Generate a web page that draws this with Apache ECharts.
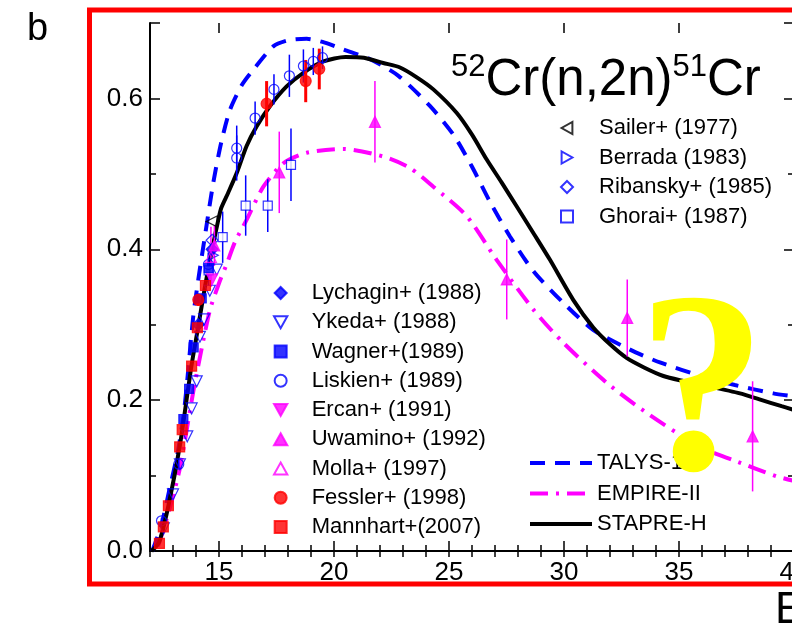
<!DOCTYPE html>
<html><head><meta charset="utf-8">
<script src="https://cdn.jsdelivr.net/npm/echarts@6/dist/echarts.min.js"></script>
<style>html,body{margin:0;padding:0;background:#fff}#c{width:792px;height:626px}</style>
</head><body><div id="c"></div>
<script>
const FONT = "'Liberation Sans', Arial, sans-serif";
const xMajorTicks = [15, 20, 25, 30, 35, 40];

// model curves
const stapreX = [12.07, 12.4, 12.8, 13.3, 13.8, 14.1, 14.4, 14.7, 14.97, 15.1, 15.4, 15.77, 16.2, 16.64, 17.22, 17.94, 18.67, 19.54, 20.5, 21.3, 22.14, 22.87, 23.6, 24.32, 25.33, 26.0, 26.64, 27.3, 27.94, 28.7, 29.39, 30.4, 31.28, 32.0, 32.72, 33.5, 34.32, 35.1, 36.2, 37.65, 38.5, 39.46, 40];
const stapreY = [0, 0.012, 0.06, 0.14, 0.245, 0.298, 0.352, 0.40, 0.439, 0.455, 0.475, 0.501, 0.537, 0.563, 0.59, 0.616, 0.634, 0.649, 0.655, 0.654, 0.647, 0.641, 0.628, 0.612, 0.581, 0.552, 0.519, 0.488, 0.457, 0.42, 0.386, 0.333, 0.296, 0.274, 0.256, 0.243, 0.232, 0.226, 0.219, 0.209, 0.201, 0.192, 0.187];
const talysX = [12.1, 12.5, 12.87, 13.2, 13.45, 13.6, 13.88, 14.1, 14.32, 14.75, 15.1, 15.48, 16.0, 16.49, 17.36, 18.0, 18.81, 19.6, 20.4, 21.57, 22.8, 24.17, 25.19, 25.99, 26.78, 27.65, 28.67, 29.97, 31.28, 32.87, 34.17, 36.06, 37.43, 39.1, 40];
const talysY = [0, 0.035, 0.085, 0.13, 0.178, 0.22, 0.311, 0.36, 0.404, 0.488, 0.542, 0.585, 0.618, 0.638, 0.669, 0.677, 0.679, 0.674, 0.665, 0.652, 0.630, 0.590, 0.552, 0.510, 0.463, 0.417, 0.371, 0.329, 0.293, 0.267, 0.25, 0.231, 0.220, 0.209, 0.205];
const empireX = [12.35, 12.8, 13.3, 13.88, 14.25, 14.61, 15.0, 15.33, 15.7, 16.2, 16.93, 17.8, 18.81, 20.4, 22.14, 23.3, 24.32, 25.77, 27.07, 28.67, 29.97, 31.86, 33.6, 35.91, 37.4, 39.25, 40];
const empireY = [0.006, 0.05, 0.11, 0.211, 0.269, 0.32, 0.355, 0.38, 0.41, 0.439, 0.483, 0.514, 0.528, 0.533, 0.523, 0.508, 0.483, 0.444, 0.386, 0.320, 0.276, 0.223, 0.183, 0.138, 0.12, 0.099, 0.093];

// experimental data
const sailerX = [14.68]; const sailerY = [0.437];
const berradaX = [14.75]; const berradaY = [0.392];
const ribanskyX = [14.7]; const ribanskyY = [0.412];
const ghoraiX = [14.55, 15.16, 16.16, 17.12, 18.13];
const ghoraiY = [0.372, 0.416, 0.458, 0.458, 0.512];
const ghoraiErr = [0.02, 0.034, 0.04, 0.035, 0.048];
const lychaginX = [14.1, 14.7]; const lychaginY = [0.30, 0.40];
const ykedaX = [12.6, 13.0, 13.3, 13.62, 13.81, 14.03, 14.17, 14.35, 14.6, 14.9];
const ykedaY = [0.03, 0.075, 0.115, 0.152, 0.189, 0.225, 0.284, 0.307, 0.345, 0.373];
const wagnerX = [13.45, 13.7, 13.9, 14.25, 14.55];
const wagnerY = [0.175, 0.215, 0.27, 0.335, 0.375];
const liskienX = [12.5, 13.25, 14.54, 15.77, 15.77, 16.57, 17.39, 18.06, 18.67, 19.1, 19.5];
const liskienY = [0.04, 0.115, 0.38, 0.534, 0.521, 0.574, 0.612, 0.630, 0.643, 0.649, 0.654];
const liskienErr = [0.004, 0.006, 0.015, 0.03, 0.03, 0.022, 0.02, 0.028, 0.022, 0.018, 0.015];
const ercanX = [14.7]; const ercanY = [0.36];
const uwaminoX = [14.8, 17.62, 21.78, 27.51, 32.75, 38.2];
const uwaminoY = [0.405, 0.502, 0.569, 0.36, 0.309, 0.152];
const uwaminoErr = [0.027, 0.054, 0.054, 0.053, 0.051, 0.073];
const mollaX = [14.65]; const mollaY = [0.39]; const mollaErr = [0.04];
const fesslerX = [14.1, 17.07, 18.77, 19.36];
const fesslerY = [0.333, 0.593, 0.623, 0.639];
const fesslerErr = [0.008, 0.03, 0.028, 0.027];
const mannhartX = [12.41, 12.58, 12.80, 13.29, 13.40, 13.81, 14.06, 14.41];
const mannhartY = [0.010, 0.032, 0.060, 0.138, 0.161, 0.245, 0.296, 0.352];

const zip = (xs, ys) => xs.map((x, i) => [x, ys[i]]);
const zip3 = (xs, ys, es) => xs.map((x, i) => [x, ys[i], es[i]]);

const BLUE = '#0000ff', MAG = '#ff00ff', RED = '#ff0000';
const NONE = 'rgba(255,255,255,0)';
const TRI_UP = 'path://M5,0L10,9L0,9Z';
const TRI_DOWN = 'path://M0,0L10,0L5,9Z';
const TRI_LEFT = 'path://M9,0L9,10L0,5Z';
const TRI_RIGHT = 'path://M0,0L0,10L9,5Z';
const SQUARE = 'path://M0,0L10,0L10,10L0,10Z';
const DIAMOND = 'path://M5,0L10,5L5,10L0,5Z';

function scatter(name, xs, ys, symbol, size, fill, stroke) {
  return {
    type: 'scatter', name: name, data: zip(xs, ys), symbol: symbol, symbolSize: size,
    itemStyle: { color: fill, borderColor: stroke, borderWidth: 1.2 }, z: 4,
    xAxisIndex: 0, yAxisIndex: 0, silent: true
  };
}
function errbars(xs, ys, es, color, width) {
  return {
    type: 'custom', data: zip3(xs, ys, es), z: 3, xAxisIndex: 0, yAxisIndex: 0, silent: true,
    encode: { x: 0, y: 1 },
    renderItem: function (params, api) {
      const x = api.value(0), y = api.value(1), e = api.value(2);
      const p1 = api.coord([x, y - e]), p2 = api.coord([x, y + e]);
      return { type: 'line', shape: { x1: p1[0], y1: p1[1], x2: p2[0], y2: p2[1] },
        style: { stroke: color, lineWidth: width } };
    }
  };
}
function line(name, xs, ys, color, dash) {
  return {
    type: 'line', name: name, data: zip(xs, ys), symbol: 'none', smooth: 0.25,
    lineStyle: { color: color, width: 4, type: dash }, itemStyle: { color: color }, z: 2,
    xAxisIndex: 0, yAxisIndex: 0, silent: true
  };
}

const GRID = { left: 150, top: 23, width: 644, height: 528, containLabel: false, outerBoundsMode: 'none' };
const axisLineStyle = { show: true, lineStyle: { color: '#000', width: 2 } };

const option = {
  animation: false,
  grid: [Object.assign({}, GRID), Object.assign({}, GRID)],
  xAxis: [
    { type: 'value', gridIndex: 0, position: 'bottom', min: 12, max: 40, interval: 1,
      axisLine: axisLineStyle, splitLine: { show: false },
      axisTick: { show: true, inside: true, length: 6, lineStyle: { color: '#000', width: 1.5 } },
      axisLabel: { interval: 0, margin: 9, fontSize: 26, fontFamily: FONT, color: '#000',
        formatter: v => (v % 5 === 0 ? String(v) : '') } },
    { type: 'value', gridIndex: 0, position: 'top', min: 12, max: 40, interval: 1,
      axisLine: axisLineStyle, splitLine: { show: false },
      axisTick: { show: true, inside: true, length: 6, lineStyle: { color: '#000', width: 1.5 } },
      axisLabel: { show: false } },
    { type: 'value', gridIndex: 1, position: 'bottom', min: 12, max: 40,
      axisLine: { show: false }, splitLine: { show: false }, axisLabel: { show: false },
      axisTick: { show: true, inside: true, length: 10, customValues: xMajorTicks, lineStyle: { color: '#000', width: 1.5 } } },
    { type: 'value', gridIndex: 1, position: 'top', min: 12, max: 40,
      axisLine: { show: false }, splitLine: { show: false }, axisLabel: { show: false },
      axisTick: { show: true, inside: true, length: 10, customValues: xMajorTicks, lineStyle: { color: '#000', width: 1.5 } } }
  ],
  yAxis: [
    { type: 'value', gridIndex: 0, position: 'left', min: 0, max: 0.7, interval: 0.2,
      axisLine: axisLineStyle, splitLine: { show: false },
      axisTick: { show: true, inside: true, length: 10, lineStyle: { color: '#000', width: 1.5 } },
      minorTick: { show: true, splitNumber: 2, length: 6, lineStyle: { color: '#000', width: 1.5 } },
      axisLabel: { showMaxLabel: false, margin: 7, fontSize: 26, fontFamily: FONT, color: '#000',
        formatter: v => v.toFixed(1) } },
    { type: 'value', gridIndex: 0, position: 'right', min: 0, max: 0.7, interval: 0.2,
      axisLine: axisLineStyle, splitLine: { show: false },
      axisTick: { show: true, inside: true, length: 10, lineStyle: { color: '#000', width: 1.5 } },
      minorTick: { show: true, splitNumber: 2, length: 6, lineStyle: { color: '#000', width: 1.5 } },
      axisLabel: { show: false } },
    { type: 'value', gridIndex: 1, min: 0, max: 0.7, show: false }
  ],
  legend: [
    { data: ['Sailer+ (1977)', 'Berrada (1983)', 'Ribansky+ (1985)', 'Ghorai+ (1987)'],
      orient: 'vertical', left: 560, top: 117, padding: 0, itemWidth: 54, itemHeight: 12, itemGap: 7.5,
      selectedMode: false, textStyle: { fontSize: 22, fontFamily: FONT, color: '#000', lineHeight: 22 } },
    { data: ['Lychagin+ (1988)', 'Ykeda+ (1988)', 'Wagner+(1989)', 'Liskien+ (1989)', 'Ercan+ (1991)',
             'Uwamino+ (1992)', 'Molla+ (1997)', 'Fessler+ (1998)', 'Mannhart+(2007)'],
      orient: 'vertical', left: 273, top: 282, padding: 0, itemWidth: 52, itemHeight: 12, itemGap: 7.25,
      selectedMode: false, textStyle: { fontSize: 22, fontFamily: FONT, color: '#000', lineHeight: 22 } },
    { data: ['TALYS-1', 'EMPIRE-II', 'STAPRE-H'],
      orient: 'vertical', left: 528, top: 452, padding: 0, itemWidth: 62, itemHeight: 14, itemGap: 8.5,
      selectedMode: false, lineStyle: { width: 4 }, itemStyle: { opacity: 0 },
      textStyle: { fontSize: 22, fontFamily: FONT, color: '#000', lineHeight: 22 } }
  ],
  series: [
    line('TALYS-1', talysX, talysY, BLUE, [15, 10]),
    line('EMPIRE-II', empireX, empireY, MAG, [18, 8, 3, 8]),
    line('STAPRE-H', stapreX, stapreY, '#000', 'solid'),
    errbars(liskienX, liskienY, liskienErr, BLUE, 1.5),
    errbars(ghoraiX, ghoraiY, ghoraiErr, BLUE, 1.5),
    errbars(uwaminoX, uwaminoY, uwaminoErr, MAG, 1.5),
    errbars(mollaX, mollaY, mollaErr, MAG, 1.5),
    errbars(fesslerX, fesslerY, fesslerErr, RED, 3),
    scatter('Sailer+ (1977)', sailerX, sailerY, TRI_LEFT, 11, NONE, '#000'),
    scatter('Berrada (1983)', berradaX, berradaY, TRI_RIGHT, 10, NONE, BLUE),
    scatter('Ribansky+ (1985)', ribanskyX, ribanskyY, DIAMOND, 12, NONE, BLUE),
    scatter('Ghorai+ (1987)', ghoraiX, ghoraiY, SQUARE, 9, '#fff', BLUE),
    scatter('Lychagin+ (1988)', lychaginX, lychaginY, DIAMOND, 12, BLUE, BLUE),
    scatter('Ykeda+ (1988)', ykedaX, ykedaY, TRI_DOWN, 11, NONE, BLUE),
    scatter('Wagner+(1989)', wagnerX, wagnerY, SQUARE, 9, BLUE, BLUE),
    scatter('Liskien+ (1989)', liskienX, liskienY, 'circle', 10, NONE, BLUE),
    scatter('Ercan+ (1991)', ercanX, ercanY, TRI_DOWN, 11, MAG, MAG),
    scatter('Uwamino+ (1992)', uwaminoX, uwaminoY, TRI_UP, 11, MAG, MAG),
    scatter('Molla+ (1997)', mollaX, mollaY, TRI_UP, 11, NONE, MAG),
    scatter('Fessler+ (1998)', fesslerX, fesslerY, 'circle', 11, RED, RED),
    scatter('Mannhart+(2007)', mannhartX, mannhartY, SQUARE, 10, RED, RED)
  ],
  graphic: [
    { type: 'rect', shape: { x: 89.5, y: 10, width: 740, height: 574 }, silent: true, z: 1,
      style: { fill: 'none', stroke: '#ff0000', lineWidth: 5 } },
    { type: 'text', x: 27, y: 11, silent: true,
      style: { text: 'b', fontSize: 38, fontFamily: FONT, fill: '#000' } },
    { type: 'text', x: 775, y: 589, silent: true,
      style: { text: 'E', fontSize: 44, fontFamily: FONT, fill: '#000' } },
    { type: 'text', x: 451, y: 52, silent: true, z: 50,
      style: { text: '{s|52}{m|Cr(n,2n)}{s|51}{m|Cr}', fill: '#000',
        rich: { s: { fontSize: 31, fontFamily: FONT, verticalAlign: 'top', lineHeight: 24 },
                m: { fontSize: 51, fontFamily: FONT, lineHeight: 58 } } } },
    { type: 'text', x: 702, y: 402, silent: true, z: 100,
      style: { text: '?', fontSize: 258, fontWeight: 'bold', fontFamily: "'Liberation Serif', 'Times New Roman', serif",
        fill: '#ffff00', align: 'center', verticalAlign: 'middle' } }
  ]
};

const chart = echarts.init(document.getElementById('c'), null, { renderer: 'canvas' });
chart.setOption(option);
</script>
</body></html>
